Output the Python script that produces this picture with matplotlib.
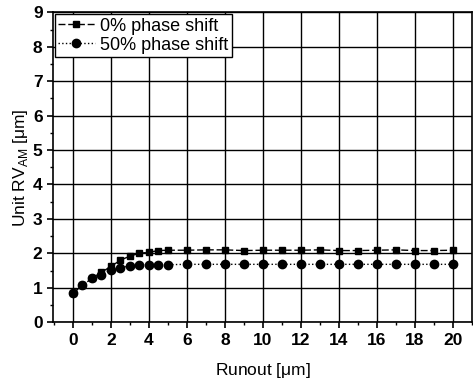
import matplotlib
matplotlib.use("Agg")
import matplotlib.pyplot as plt
from matplotlib.ticker import MultipleLocator

# runout values [um]
runout = [0, 0.5, 1, 1.5, 2, 2.5, 3, 3.5, 4, 4.5, 5,
          6, 7, 8, 9, 10, 11, 12, 13, 14, 15, 16, 17, 18, 19, 20]

# unit RV_AM [um]
rv_0 = [0.84, 1.07, 1.27, 1.45, 1.62, 1.80, 1.92, 2.00, 2.03, 2.08, 2.09,
        2.09, 2.10, 2.10, 2.08, 2.09, 2.09, 2.09, 2.10, 2.08, 2.08, 2.09, 2.10, 2.08, 2.08, 2.09]
rv_50 = [0.84, 1.07, 1.27, 1.38, 1.52, 1.58, 1.64, 1.67, 1.67, 1.67, 1.67,
         1.68, 1.68, 1.68, 1.68, 1.68, 1.68, 1.68, 1.68, 1.68, 1.68, 1.68, 1.68, 1.68, 1.68, 1.68]

plt.rcParams['font.family'] = ['Liberation Sans', 'DejaVu Sans']

fig = plt.figure(figsize=(4.73, 3.84), dpi=100)
ax = fig.add_axes([0.112, 0.161, 0.886, 0.807])

ax.plot(runout, rv_0, color='black', linestyle='--', dashes=(5, 2), linewidth=1.0,
        marker='s', markersize=5, label='0% phase shift', zorder=3)
ax.plot(runout, rv_50, color='black', linestyle=':', linewidth=1.0,
        marker='o', markersize=6, label='50% phase shift', zorder=3)

ax.set_xlim(-1.05, 21)
ax.set_ylim(0, 9)
ax.xaxis.set_major_locator(MultipleLocator(2))
ax.xaxis.set_minor_locator(MultipleLocator(1))
ax.yaxis.set_major_locator(MultipleLocator(1))
ax.yaxis.set_minor_locator(MultipleLocator(0.5))

ax.grid(True, which='major', color='black', linewidth=1.0)
ax.set_axisbelow(True)

ax.tick_params(which='major', direction='out', length=4, width=1.2, labelsize=12.5,
               bottom=True, left=True, top=False, right=False)
ax.tick_params(which='minor', direction='out', length=2.5, width=1.0,
               bottom=True, left=True, top=False, right=False)
for lbl in ax.get_xticklabels() + ax.get_yticklabels():
    lbl.set_fontweight('bold')

for sp in ax.spines.values():
    sp.set_linewidth(1.2)

ax.set_xlabel(r'Runout [$\mathregular{\mu}$m]', fontsize=12.5, labelpad=10)
ax.set_ylabel(r'Unit RV$_{\mathregular{AM}}$ [$\mathregular{\mu}$m]', fontsize=12.5, labelpad=2)

leg = ax.legend(loc='upper left', fontsize=13, frameon=True, fancybox=False,
                edgecolor='black', framealpha=1, borderpad=0.2, labelspacing=0.1,
                handlelength=2.0, handletextpad=0.3, borderaxespad=0.1)
leg.get_frame().set_linewidth(1.0)

fig.savefig('out.png', dpi=100)
